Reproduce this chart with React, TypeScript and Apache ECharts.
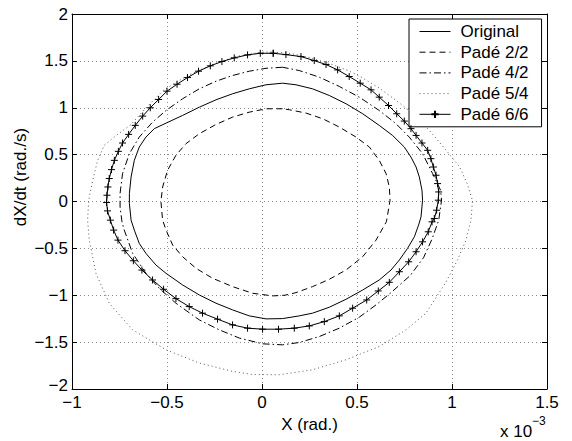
import React, { useEffect, useRef } from "react";
import * as echarts from "echarts";

// X values are in units of 1e-3 rad (axis shows "x 10^-3")
const xTicks = [-1, -0.5, 0, 0.5, 1, 1.5];
const yTicks = [-2, -1.5, -1, -0.5, 0, 0.5, 1, 1.5, 2];

const seriesNames = ["Original", "Padé 2/2", "Padé 4/2", "Padé 5/4", "Padé 6/6"];

const original: number[][] = [
  [0.108, 1.262], [0.021, 1.245], [-0.067, 1.202], [-0.155, 1.149], [-0.242, 1.085],
  [-0.33, 1.006], [-0.418, 0.918], [-0.505, 0.836], [-0.567, 0.777], [-0.611, 0.687],
  [-0.646, 0.581], [-0.672, 0.439], [-0.689, 0.262], [-0.698, 0.085], [-0.698, -0.021],
  [-0.689, -0.199], [-0.672, -0.305], [-0.646, -0.447], [-0.611, -0.553], [-0.558, -0.678],
  [-0.505, -0.766], [-0.418, -0.89], [-0.33, -0.997], [-0.242, -1.085], [-0.155, -1.156],
  [-0.067, -1.22], [0.021, -1.252], [0.108, -1.249], [0.196, -1.22], [0.266, -1.191],
  [0.354, -1.128], [0.442, -1.043], [0.53, -0.944], [0.617, -0.837], [0.679, -0.731],
  [0.723, -0.624], [0.766, -0.5], [0.802, -0.376], [0.824, -0.252], [0.837, -0.164],
  [0.845, 0.014], [0.842, 0.12], [0.828, 0.262], [0.811, 0.368], [0.784, 0.474],
  [0.749, 0.581], [0.687, 0.705], [0.617, 0.812], [0.53, 0.936], [0.442, 1.043],
  [0.354, 1.131], [0.266, 1.202], [0.179, 1.245], [0.108, 1.262],
];

const pade22: number[][] = [
  [0.108, 0.989], [0.021, 0.989], [-0.067, 0.953], [-0.155, 0.9], [-0.242, 0.822],
  [-0.33, 0.723], [-0.4, 0.617], [-0.453, 0.493], [-0.497, 0.333], [-0.523, 0.155],
  [-0.532, 0], [-0.523, -0.199], [-0.505, -0.305], [-0.47, -0.465], [-0.418, -0.589],
  [-0.347, -0.713], [-0.26, -0.819], [-0.155, -0.908], [-0.049, -0.979], [0.056, -1.007],
  [0.12, -1.0], [0.179, -0.972], [0.266, -0.908], [0.354, -0.83], [0.442, -0.731],
  [0.53, -0.589], [0.6, -0.412], [0.655, -0.215], [0.674, 0.014], [0.67, 0.155],
  [0.653, 0.298], [0.617, 0.439], [0.565, 0.581], [0.495, 0.687], [0.407, 0.794],
  [0.319, 0.883], [0.232, 0.943], [0.144, 0.979], [0.108, 0.989],
];

const pade42: number[][] = [
  [0.108, 1.432], [0.021, 1.421], [-0.067, 1.39], [-0.155, 1.344], [-0.242, 1.283],
  [-0.33, 1.202], [-0.418, 1.096], [-0.505, 0.971], [-0.576, 0.847], [-0.646, 0.687],
  [-0.698, 0.511], [-0.734, 0.298], [-0.747, 0.085], [-0.747, -0.057], [-0.737, -0.217],
  [-0.725, -0.305], [-0.681, -0.553], [-0.611, -0.766], [-0.541, -0.926], [-0.453, -1.085],
  [-0.33, -1.263], [-0.225, -1.369], [-0.119, -1.457], [0.003, -1.518], [0.108, -1.529],
  [0.196, -1.504], [0.302, -1.44], [0.407, -1.351], [0.512, -1.234], [0.6, -1.103],
  [0.68, -0.97], [0.78, -0.79], [0.85, -0.6], [0.895, -0.4], [0.93, -0.2],
  [0.945, 0.014], [0.94, 0.12], [0.898, 0.298], [0.845, 0.511], [0.775, 0.687],
  [0.705, 0.83], [0.617, 0.971], [0.512, 1.113], [0.407, 1.227], [0.302, 1.326],
  [0.196, 1.397], [0.108, 1.432],
];

const pade54: number[][] = [
  [0.05, 1.595], [-0.01, 1.59], [-0.14, 1.545], [-0.27, 1.455], [-0.4, 1.335],
  [-0.52, 1.185], [-0.61, 1.0], [-0.69, 0.82], [-0.77, 0.7], [-0.83, 0.6],
  [-0.865, 0.439], [-0.891, 0.227], [-0.912, 0.014], [-0.918, -0.199], [-0.909, -0.412],
  [-0.874, -0.766], [-0.804, -1.085], [-0.681, -1.369], [-0.505, -1.582], [-0.33, -1.723],
  [-0.155, -1.812], [-0.05, -1.845], [0.091, -1.848], [0.266, -1.795], [0.442, -1.688],
  [0.617, -1.547], [0.758, -1.369], [0.863, -1.191], [0.93, -0.98], [0.968, -0.86],
  [1.03, -0.62], [1.074, -0.41], [1.1, -0.2], [1.108, 0.01], [1.08, 0.19],
  [1.04, 0.37], [0.968, 0.55], [0.88, 0.76], [0.78, 0.96], [0.705, 1.08],
  [0.617, 1.21], [0.52, 1.33], [0.45, 1.4], [0.35, 1.475], [0.25, 1.535],
  [0.15, 1.58], [0.05, 1.595],
];

const pade66: number[][] = [
  [0.059, 1.581], [-0.009, 1.581], [-0.076, 1.564], [-0.146, 1.532], [-0.211, 1.493],
  [-0.272, 1.447], [-0.334, 1.39], [-0.392, 1.322], [-0.447, 1.251], [-0.5, 1.177],
  [-0.544, 1.088], [-0.588, 1.0], [-0.628, 0.911], [-0.667, 0.812], [-0.702, 0.716],
  [-0.734, 0.624], [-0.756, 0.535], [-0.777, 0.439], [-0.792, 0.34], [-0.804, 0.245],
  [-0.811, 0.155], [-0.816, 0.067], [-0.818, -0.011], [-0.813, -0.1], [-0.798, -0.199],
  [-0.781, -0.305], [-0.758, -0.412], [-0.721, -0.525], [-0.677, -0.632], [-0.632, -0.731],
  [-0.576, -0.837], [-0.518, -0.936], [-0.453, -1.036], [-0.383, -1.121], [-0.313, -1.191],
  [-0.234, -1.255], [-0.155, -1.316], [-0.076, -1.351], [0.003, -1.362], [0.087, -1.362],
  [0.17, -1.351], [0.249, -1.327], [0.328, -1.281], [0.407, -1.22], [0.477, -1.138],
  [0.551, -1.05], [0.612, -0.954], [0.67, -0.862], [0.723, -0.749], [0.772, -0.643],
  [0.811, -0.536], [0.845, -0.43], [0.875, -0.323], [0.895, -0.217], [0.907, -0.181],
  [0.919, -0.093], [0.928, 0.014], [0.93, 0.102], [0.924, 0.191], [0.916, 0.28],
  [0.902, 0.368], [0.889, 0.457], [0.872, 0.546], [0.842, 0.624], [0.811, 0.705],
  [0.784, 0.777], [0.749, 0.858], [0.709, 0.936], [0.666, 1.024], [0.617, 1.113],
  [0.574, 1.191], [0.517, 1.262], [0.459, 1.333], [0.398, 1.404], [0.337, 1.461],
  [0.275, 1.503], [0.205, 1.546], [0.126, 1.567], [0.059, 1.581],
];

const FONT = "'Liberation Sans', Arial, Helvetica, sans-serif";

const fmt = (v: number) => (v < 0 ? "\u2212" + String(Math.abs(v)) : String(v));
// lowest y label is nudged up a little so it does not collide with the first x label
const fmtY = (v: number) => (v === yTicks[0] ? "{lo|" + fmt(v) + "}" : fmt(v));

export default function App() {
  const ref = useRef<HTMLDivElement>(null);
  useEffect(() => {
    if (!ref.current) return;
    const chart = echarts.init(ref.current, null, { renderer: "svg" });
    const axisCommon = {
      type: "value" as const,
      axisLine: { show: true, onZero: false, lineStyle: { color: "#000", width: 1 } },
      axisTick: { show: true, inside: true, length: 5, lineStyle: { color: "#000", width: 1 } },
    };
    const plus = "path://M0,5L10,5M5,0L5,10";
    const hidden = { color: "rgba(0,0,0,0)", borderColor: "rgba(0,0,0,0)", borderWidth: 0 };
    chart.setOption({
      animation: false,
      backgroundColor: "#fff",
      grid: { left: 72, top: 14, right: 25, bottom: 52, containLabel: false },
      xAxis: [
        {
          ...axisCommon,
          position: "bottom",
          min: xTicks[0],
          max: xTicks[xTicks.length - 1],
          interval: 0.5,
          name: "X (rad.)",
          nameLocation: "middle",
          nameGap: 18,
          nameTextStyle: { fontFamily: FONT, fontSize: 17, color: "#000" },
          axisLabel: { margin: 5, fontFamily: FONT, fontSize: 17, color: "#000", formatter: fmt },
          splitLine: { show: true, lineStyle: { color: "#8a8a8a", width: 1, type: [1, 3] } },
        },
        {
          ...axisCommon,
          position: "top",
          min: xTicks[0],
          max: xTicks[xTicks.length - 1],
          interval: 0.5,
          axisLabel: { show: false },
          splitLine: { show: false },
        },
      ],
      yAxis: [
        {
          ...axisCommon,
          position: "left",
          min: yTicks[0],
          max: yTicks[yTicks.length - 1],
          interval: 0.5,
          axisLabel: {
            margin: 4, fontFamily: FONT, fontSize: 17, color: "#000", formatter: fmtY,
            rich: { lo: { fontFamily: FONT, fontSize: 17, color: "#000", padding: [0, 0, 7, 0] } },
          },
          splitLine: { show: true, lineStyle: { color: "#8a8a8a", width: 1, type: [1, 3] } },
        },
        {
          ...axisCommon,
          position: "right",
          min: yTicks[0],
          max: yTicks[yTicks.length - 1],
          interval: 0.5,
          axisLabel: { show: false },
          splitLine: { show: false },
        },
      ],
      legend: {
        orient: "vertical",
        left: 409,
        top: 19,
        padding: [4, 13, 4, 10],
        itemWidth: 31,
        itemHeight: 9,
        itemGap: 3.7,
        selectedMode: false,
        backgroundColor: "#fff",
        borderColor: "#000",
        borderWidth: 1,
        borderRadius: 0,
        lineStyle: { width: 1 },
        textStyle: { fontFamily: FONT, fontSize: 17, color: "#000", padding: [0, 0, 0, 5] },
        data: seriesNames.map((n, i) => (i < 4 ? { name: n, itemStyle: hidden } : { name: n })),
      },
      series: [
        {
          name: seriesNames[0], type: "line", data: original, symbol: "none", smooth: false,
          lineStyle: { color: "#000", width: 1, type: "solid" }, itemStyle: { color: "#000" }, z: 3,
        },
        {
          name: seriesNames[1], type: "line", data: pade22, symbol: "none",
          lineStyle: { color: "#000", width: 1, type: [6, 4] }, itemStyle: { color: "#000" }, z: 3,
        },
        {
          name: seriesNames[2], type: "line", data: pade42, symbol: "none",
          lineStyle: { color: "#000", width: 1, type: [7, 3, 1.5, 3] }, itemStyle: { color: "#000" }, z: 3,
        },
        {
          name: seriesNames[3], type: "line", data: pade54, symbol: "none",
          lineStyle: { color: "#555", width: 1, type: [1, 3] }, itemStyle: { color: "#555" }, z: 3,
        },
        {
          name: seriesNames[4], type: "line", data: pade66, symbol: plus, symbolSize: 7, showSymbol: true,
          lineStyle: { color: "#000", width: 1, type: "solid" },
          itemStyle: { color: "#000", borderColor: "#000", borderWidth: 1 }, z: 4,
        },
      ],
      graphic: [
        {
          type: "text", x: 20, y: 177, rotation: Math.PI / 2,
          style: { text: "dX/dt (rad./s)", fontFamily: FONT, fontSize: 17, fill: "#000", align: "center", verticalAlign: "middle" },
        },
        {
          type: "text", x: 500, y: 431,
          style: { text: "x 10", fontFamily: FONT, fontSize: 17, fill: "#000", align: "left", verticalAlign: "middle" },
        },
        {
          type: "text", x: 532, y: 421,
          style: { text: "\u22123", fontFamily: FONT, fontSize: 12, fill: "#000", align: "left", verticalAlign: "middle" },
        },
      ],
    });
    return () => chart.dispose();
  }, []);
  return <div ref={ref} style={{ width: 572, height: 441, position: "absolute", left: 0, top: 0 }} />;
}
